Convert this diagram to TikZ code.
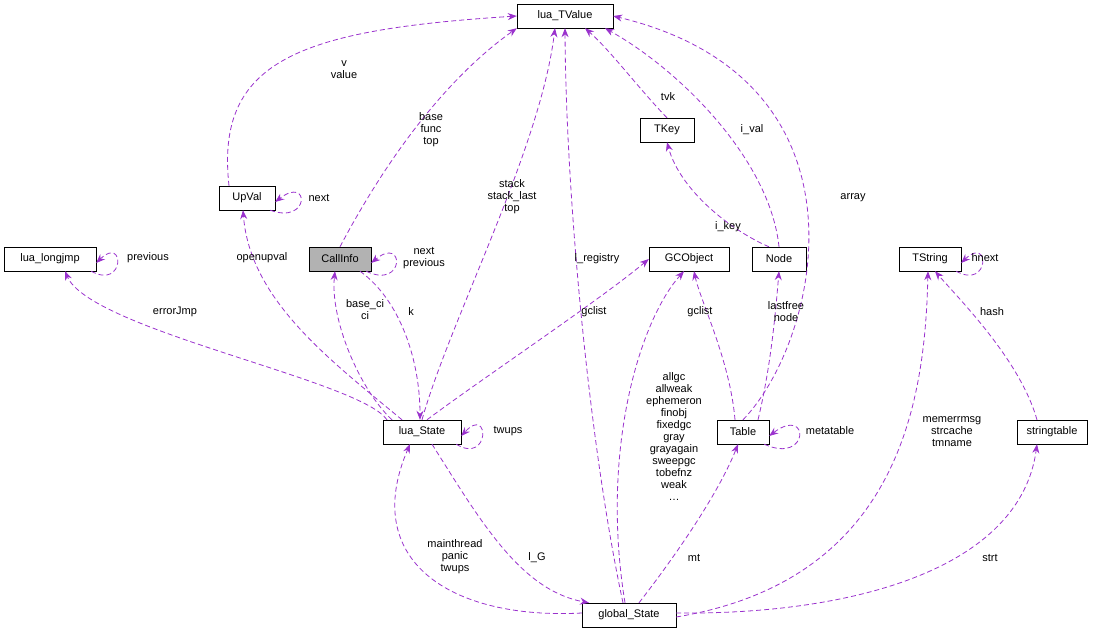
\documentclass[tikz,border=0pt]{standalone}
\usepackage{fontspec}
\setmainfont{Liberation Sans}
\usetikzlibrary{arrows.meta}
\definecolor{ep}{HTML}{9A32CD}
\begin{document}
\begin{tikzpicture}[x=1pt,y=-1pt,
  box/.style={draw,fill=white,minimum height=24pt,inner sep=3pt,font=\fontsize{11}{12}\selectfont},
  e/.style={ep,dashed,dash pattern=on 5pt off 3pt,line width=0.8pt,-{Stealth[length=9pt,width=7pt]}},
  lb/.style={font=\fontsize{11}{12}\selectfont,align=center,inner sep=0pt}]
\useasboundingbox (0,0) rectangle (1093,637);
\node[box,minimum width=96pt] (tv) at (565,16) {lua\_TValue};
\node[box,minimum width=56pt] (uv) at (247,198) {UpVal};
\node[box,minimum width=62pt,fill=black!30] (ci) at (340,259) {CallInfo};
\node[box,minimum width=92pt] (lj) at (50,259) {lua\_longjmp};
\node[box,minimum width=80pt] (gc) at (689,259) {GCObject};
\node[box,minimum width=54pt] (nd) at (779,259) {Node};
\node[box,minimum width=54pt] (tk) at (667,130) {TKey};
\node[box,minimum width=62pt] (ts) at (930,259) {TString};
\node[box,minimum width=78pt] (ls) at (422,432) {lua\_State};
\node[box,minimum width=52pt] (tb) at (743,432) {Table};
\node[box,minimum width=70pt] (st) at (1052,432) {stringtable};
\node[box,minimum width=94pt] (gs) at (629,615) {global\_State};

\draw[e] ([xshift=-18pt]uv.north) .. controls (215,60) and (300,30) .. (tv.west);
\node[lb] (l1) at (344,70) {v\\value};
\draw[e] (ci.north) .. controls (370,190) and (430,90) .. (tv.south west);
\node[lb] (l2) at (431,130) {base\\func\\top};
\draw[e] (ls.north) .. controls (450,320) and (540,150) .. ([xshift=-10pt]tv.south);
\node[lb] (l3) at (512,197) {stack\\stack\_last\\top};
\draw[e] ([xshift=-6pt]gs.north) .. controls (590,450) and (566,200) .. (tv.south);
\node[lb] (l4) at (597,259) {l\_registry};
\draw[e] (tk.north) .. controls (640,90) and (610,50) .. ([xshift=20pt]tv.south);
\node[lb] (l5) at (668,97) {tvk};
\draw[e] (nd.north) .. controls (770,160) and (680,70) .. ([xshift=40pt]tv.south);
\node[lb] (l6) at (752,130) {i\_val};
\draw[e] (tb.north) .. controls (820,340) and (880,80) .. (tv.east);
\node[lb] (l7) at (853,198) {array};
% self loops
\draw[e] ([xshift=-5pt]uv.south east) .. controls (310,225) and (310,175) .. ([yshift=-4pt]uv.east);
\node[lb] (l8) at (319,198) {next};
\draw[e] ([xshift=-5pt]ci.south east) .. controls (405,290) and (405,235) .. ([yshift=-4pt]ci.east);
\node[lb] (l9) at (424,258) {next\\previous};
\draw[e] ([xshift=-5pt]lj.south east) .. controls (125,290) and (125,235) .. ([yshift=-4pt]lj.east);
\node[lb] (l10) at (148,258) {previous};
\draw[e] ([xshift=-5pt]ts.south east) .. controls (990,290) and (990,235) .. ([yshift=-4pt]ts.east);
\node[lb] (l11) at (985,258) {hnext};
\draw[e] ([xshift=-5pt]tb.south east) .. controls (810,465) and (810,405) .. ([yshift=-4pt]tb.east);
\node[lb] (l12) at (830,431) {metatable};
\draw[e] ([xshift=-5pt]ls.south east) .. controls (490,465) and (490,405) .. ([yshift=-4pt]ls.east);
\node[lb] (l13) at (508,431) {twups};
% others
\draw[e] ([xshift=-20pt]ls.north) .. controls (330,360) and (250,300) .. ([xshift=-4pt]uv.south);
\node[lb] (l14) at (262,258) {openupval};
\draw[e] ([xshift=-30pt]ls.north) .. controls (360,390) and (330,320) .. ([xshift=-5pt]ci.south);
\node[lb] (l15) at (365,310) {base\_ci\\ci};
\draw[e] ([xshift=20pt]ci.south) .. controls (400,300) and (420,360) .. ([xshift=-2pt]ls.north);
\node[lb] (l16) at (411,312) {k};
\draw[e] ([xshift=-35pt]ls.north) .. controls (360,380) and (90,330) .. ([xshift=15pt]lj.south);
\node[lb] (l17) at (175,312) {errorJmp};
\draw[e] ([xshift=5pt]ls.north) .. controls (480,380) and (600,300) .. (gc.west);
\node[lb] (l18) at (594,312) {gclist};
\draw[e] ([xshift=-4pt]gs.north) .. controls (600,450) and (640,320) .. ([xshift=-5pt]gc.south);
\node[lb] (l19) at (674,437) {allgc\\allweak\\ephemeron\\finobj\\fixedgc\\gray\\grayagain\\sweepgc\\tobefnz\\weak\\…};
\draw[e] ([xshift=-8pt]tb.north) .. controls (730,360) and (700,300) .. ([xshift=5pt]gc.south);
\node[lb] (l20) at (700,312) {gclist};
\draw[e] ([xshift=15pt]tb.north) .. controls (770,370) and (775,320) .. (nd.south);
\node[lb] (l21) at (786,312) {lastfree\\node};
\draw[e] ([xshift=-10pt]nd.north) .. controls (730,230) and (680,190) .. (tk.south);
\node[lb] (l22) at (728,227) {i\_key};
\draw[e] ([xshift=10pt]gs.north) .. controls (680,550) and (720,490) .. ([xshift=-5pt]tb.south);
\node[lb] (l23) at (694,558) {mt};
\draw[e] ([yshift=2pt]gs.west) .. controls (450,620) and (360,560) .. ([xshift=-12pt]ls.south);
\node[lb] (l24) at (455,557) {mainthread\\panic\\twups};
\draw[e] ([xshift=10pt]ls.south) .. controls (480,520) and (520,590) .. ([xshift=-40pt]gs.north);
\node[lb] (l25) at (537,558) {l\_G};
\draw[e] ([yshift=-2pt]gs.east) .. controls (900,580) and (925,400) .. ([xshift=-2pt]ts.south);
\node[lb] (l26) at (952,432) {memerrmsg\\strcache\\tmname};
\draw[e] ([yshift=2pt]gs.east) .. controls (850,615) and (1020,570) .. ([xshift=-15pt]st.south);
\node[lb] (l27) at (990,558) {strt};
\draw[e] ([xshift=-15pt]st.north) .. controls (1020,360) and (960,300) .. ([xshift=5pt]ts.south);
\node[lb] (l28) at (992,312) {hash};
\end{tikzpicture}
\end{document}
